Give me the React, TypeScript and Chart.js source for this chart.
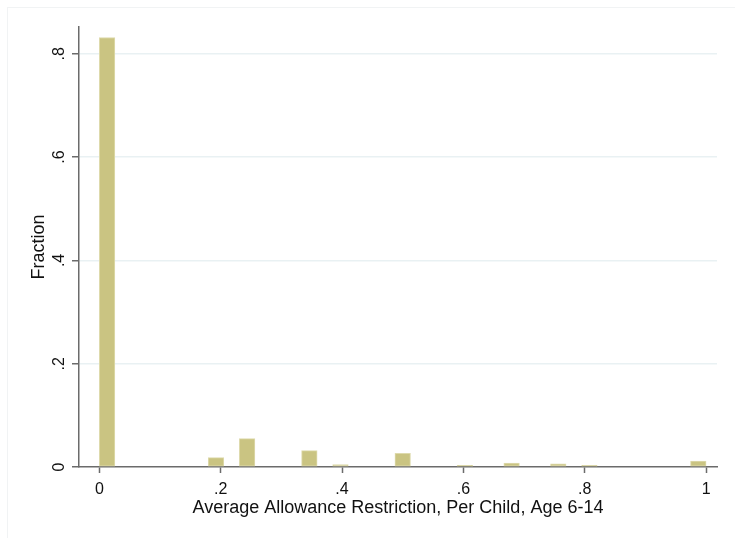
import React, { useEffect, useRef } from "react";
import { Chart, registerables } from "chart.js";

Chart.register(...registerables);

// Histogram: 39 equal-width bins over [0, 1]
const BIN_COUNT = 39;
const BIN_START = 0;
const BIN_END = 1;

// Non-empty bins (index) and the fraction of observations in each
const binIndexes = [0, 7, 9, 13, 15, 19, 23, 26, 29, 31, 38];
const binFractions = [0.8316, 0.018, 0.055, 0.0316, 0.0045, 0.0265, 0.003, 0.0077, 0.006, 0.003, 0.0116];

const xTickValues = [0, 0.2, 0.4, 0.6, 0.8, 1];
const xTickLabels = ["0", ".2", ".4", ".6", ".8", "1"];
const yTickValues = [0, 0.2, 0.4, 0.6, 0.8];
const yTickLabels = ["0", ".2", ".4", ".6", ".8"];

const xTitle = "Average Allowance Restriction, Per Child, Age 6-14";
const yTitle = "Fraction";

const FONT = "'Liberation Sans', Arial, sans-serif";
const AXIS_COLOR = "#6b6b6b";
const GRID_COLOR = "#e9f1f3";
const TEXT_COLOR = "#111111";
const BAR_FILL = "rgb(202, 196, 130)";
const BAR_EDGE = "rgb(222, 218, 172)";

const binWidth = (BIN_END - BIN_START) / BIN_COUNT;

function buildBars() {
  const points: { x: number; y: number | null }[] = [];
  for (let i = 0; i < BIN_COUNT; i++) {
    const k = binIndexes.indexOf(i);
    points.push({ x: BIN_START + (i + 0.5) * binWidth, y: k >= 0 ? binFractions[k] : null });
  }
  return points;
}

const graphRegion = {
  id: "graphRegion",
  beforeDraw(chart: Chart) {
    const { ctx, width, height } = chart;
    ctx.save();
    ctx.fillStyle = "#ffffff";
    ctx.fillRect(0, 0, width, height);
    ctx.strokeStyle = "#f1f3f4";
    ctx.lineWidth = 1;
    ctx.strokeRect(7.5, 7.5, width + 20, height + 20);
    ctx.restore();
  },
};

export default function App() {
  const canvasRef = useRef<HTMLCanvasElement | null>(null);

  useEffect(() => {
    if (!canvasRef.current) return;
    const chart = new Chart(canvasRef.current, {
      type: "bar",
      data: {
        datasets: [
          {
            data: buildBars(),
            backgroundColor: BAR_FILL,
            borderColor: BAR_EDGE,
            borderWidth: 1,
            borderSkipped: false,
            categoryPercentage: 1,
            barPercentage: 1,
          },
        ],
      },
      options: {
        animation: false,
        responsive: false,
        devicePixelRatio: 1,
        layout: { padding: { left: 0, top: 27, right: 18, bottom: 0 } },
        plugins: { legend: { display: false }, tooltip: { enabled: false } },
        scales: {
          x: {
            type: "linear",
            offset: false,
            min: -0.0335,
            max: 1.018,
            afterBuildTicks: (s: any) => {
              s.ticks = xTickValues.map((v) => ({ value: v }));
            },
            afterFit: (s: any) => {
              s.height = 71;
            },
            ticks: {
              autoSkip: false,
              maxRotation: 0,
              minRotation: 0,
              padding: 7,
              color: TEXT_COLOR,
              font: { family: FONT, size: 16 },
              callback: (v: any) => {
                const k = xTickValues.indexOf(Number(v));
                return k >= 0 ? xTickLabels[k] : "";
              },
            },
            grid: {
              offset: false,
              drawOnChartArea: false,
              drawTicks: true,
              tickLength: 6,
              tickColor: AXIS_COLOR,
              tickWidth: 1.5,
              color: AXIS_COLOR,
            },
            border: { display: true, color: AXIS_COLOR, width: 1.5 },
            title: {
              display: true,
              text: xTitle,
              color: TEXT_COLOR,
              font: { family: FONT, size: 18 },
              padding: { top: 0, bottom: 19 },
            },
          },
          y: {
            type: "linear",
            min: 0,
            max: 0.852,
            afterBuildTicks: (s: any) => {
              s.ticks = yTickValues.map((v) => ({ value: v }));
            },
            afterFit: (s: any) => {
              s.width = 79;
            },
            ticks: {
              autoSkip: false,
              minRotation: 90,
              maxRotation: 90,
              crossAlign: "center",
              padding: 6,
              color: TEXT_COLOR,
              font: { family: FONT, size: 16 },
              callback: (v: any) => {
                const k = yTickValues.indexOf(Number(v));
                return k >= 0 ? yTickLabels[k] : "";
              },
            },
            grid: {
              drawOnChartArea: true,
              drawTicks: true,
              tickLength: 7,
              tickColor: AXIS_COLOR,
              tickWidth: 1.5,
              lineWidth: 1.5,
              color: (ctx: any) => (ctx.tick && ctx.tick.value === 0 ? "rgba(0,0,0,0)" : GRID_COLOR),
            },
            border: { display: true, color: AXIS_COLOR, width: 1.5 },
            title: {
              display: true,
              text: yTitle,
              color: TEXT_COLOR,
              font: { family: FONT, size: 18 },
              padding: { top: 28, bottom: 0 },
            },
          },
        },
      },
      plugins: [graphRegion],
    });
    return () => chart.destroy();
  }, []);

  return (
    <div style={{ position: "fixed", left: 0, top: 0, width: 735, height: 538, background: "#fff" }}>
      <canvas ref={canvasRef} width={735} height={538} style={{ display: "block" }} />
    </div>
  );
}
